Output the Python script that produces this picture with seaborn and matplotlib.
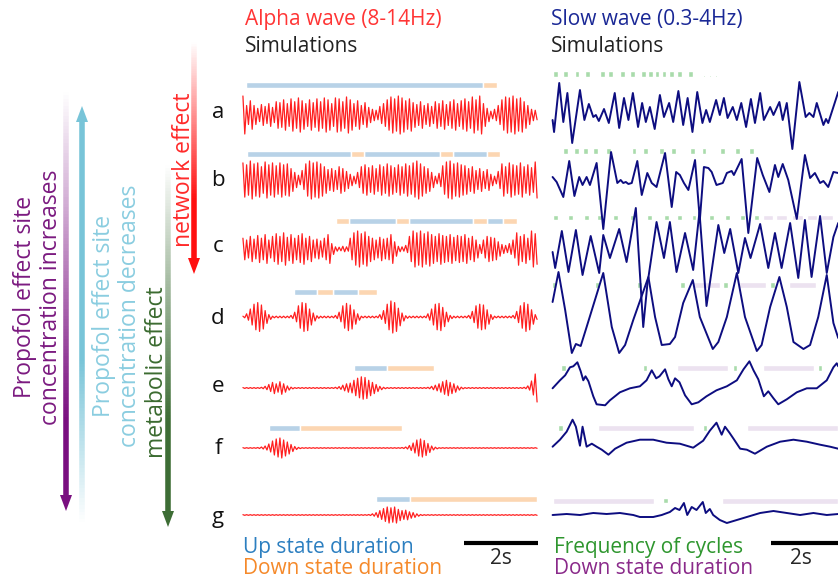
import numpy as np
import matplotlib.pyplot as plt
import seaborn as sns
from matplotlib.collections import LineCollection
from matplotlib.patches import Polygon
from matplotlib.colors import to_rgba

sns.set_style("white")
plt.rcParams['font.family'] = ['Open Sans', 'DejaVu Sans']

# ---- alpha wave: peak amplitude of each 10 Hz cycle over 8 s (1 = row max)
alpha_a = [1.0, 0.5, 0.75, 0.5, 0.35, 0.55, 0.45, 0.6, 0.4, 0.7,
           0.65, 0.8, 0.6, 0.85, 0.7, 0.9, 0.75, 0.6, 0.8, 0.65,
           0.85, 0.7, 0.9, 0.8, 0.6, 0.9, 0.85, 0.7, 0.95, 0.8,
           0.6, 0.75, 0.5, 0.65, 0.4, 0.3, 0.25, 0.45, 0.6, 0.8,
           0.95, 0.85, 1.0, 0.9, 0.75, 0.85, 0.65, 0.55, 0.7, 0.5,
           0.6, 0.45, 0.7, 0.6, 0.75, 0.55, 0.7, 0.8, 0.6, 0.75,
           0.85, 0.7, 0.95, 0.8, 1.0, 0.6, 0.35, 0.2, 0.3, 0.5,
           0.8, 0.95, 0.9, 1.0, 0.85, 0.9, 0.7, 0.5, 0.3, 0.25]
alpha_b = [0.9, 0.8, 1.0, 0.85, 0.9, 0.7, 0.95, 0.8, 0.9, 0.75,
           0.9, 0.8, 0.85, 0.6, 0.4, 0.25, 0.5, 0.85, 1.0, 0.9,
           0.95, 0.85, 0.7, 0.55, 0.6, 0.5, 0.7, 0.6, 0.45, 0.3,
           0.2, 0.4, 0.7, 0.8, 0.65, 0.75, 0.6, 0.8, 0.7, 0.85,
           0.75, 0.65, 0.8, 0.7, 0.85, 0.75, 0.9, 1.0, 0.85, 0.7,
           0.6, 0.4, 0.2, 0.35, 0.75, 0.95, 1.0, 0.85, 0.9, 0.8,
           0.75, 0.6, 0.7, 0.5, 0.6, 0.45, 0.55, 0.3, 0.2, 0.45,
           0.85, 0.7, 0.9, 0.8, 0.75, 0.9, 0.7, 0.8, 0.65, 0.95]
alpha_c = [0.6, 0.5, 0.7, 0.55, 0.75, 0.6, 0.8, 0.5, 0.7, 0.85,
           0.7, 0.9, 0.65, 0.8, 0.6, 0.75, 0.85, 0.6, 0.7, 0.5,
           0.55, 0.45, 0.6, 0.8, 0.3, 0.12, 0.1, 0.15, 0.12, 0.6,
           0.9, 1.0, 0.85, 0.95, 0.7, 0.6, 0.5, 0.65, 0.55, 0.6,
           0.8, 0.4, 0.15, 0.12, 0.2, 0.7, 1.0, 0.9, 1.0, 0.85,
           0.95, 0.8, 0.7, 0.85, 0.75, 0.7, 0.8, 0.65, 0.75, 0.7,
           0.8, 0.6, 0.7, 0.5, 0.25, 0.5, 0.7, 0.65, 0.6, 0.4,
           0.25, 0.2, 0.3, 0.5, 0.9, 0.7, 0.8, 0.6, 1.0, 0.85]
alpha_d = [0.05, 0.2, 0.5, 0.8, 0.9, 0.75, 0.4, 0.15, 0.05, 0.05,
           0.05, 0.05, 0.05, 0.1, 0.3, 0.7, 0.9, 0.85, 0.5, 0.25,
           0.08, 0.05, 0.05, 0.05, 0.05, 0.1, 0.3, 0.7, 0.85, 0.75,
           0.45, 0.2, 0.05, 0.05, 0.05, 0.05, 0.05, 0.15, 0.4, 0.8,
           1.0, 0.9, 0.55, 0.25, 0.08, 0.05, 0.05, 0.05, 0.05, 0.05,
           0.2, 0.5, 0.8, 0.85, 0.6, 0.3, 0.1, 0.05, 0.05, 0.05,
           0.05, 0.1, 0.35, 0.7, 0.8, 0.75, 0.45, 0.15, 0.05, 0.05,
           0.05, 0.05, 0.05, 0.1, 0.35, 0.7, 0.9, 0.8, 0.45, 0.15]
alpha_e = [0.03, 0.03, 0.03, 0.03, 0.03, 0.05, 0.12, 0.25, 0.4, 0.3,
           0.45, 0.3, 0.15, 0.06, 0.03, 0.03, 0.03, 0.03, 0.03, 0.03,
           0.03, 0.03, 0.03, 0.03, 0.03, 0.05, 0.1, 0.2, 0.3, 0.35,
           0.55, 0.7, 0.8, 0.75, 0.55, 0.4, 0.25, 0.12, 0.05, 0.03,
           0.03, 0.03, 0.03, 0.03, 0.03, 0.03, 0.03, 0.03, 0.03, 0.03,
           0.05, 0.12, 0.2, 0.3, 0.45, 0.55, 0.4, 0.3, 0.15, 0.06,
           0.03, 0.03, 0.03, 0.03, 0.03, 0.03, 0.03, 0.03, 0.03, 0.03,
           0.03, 0.03, 0.03, 0.03, 0.03, 0.03, 0.05, 0.15, 0.5, 1.0]
alpha_f = [0.03, 0.03, 0.03, 0.03, 0.05, 0.1, 0.2, 0.4, 0.7, 0.9,
           1.0, 0.8, 0.6, 0.35, 0.15, 0.06, 0.03, 0.03, 0.03, 0.03,
           0.03, 0.03, 0.03, 0.03, 0.03, 0.03, 0.03, 0.03, 0.03, 0.03,
           0.03, 0.03, 0.03, 0.03, 0.03, 0.03, 0.03, 0.03, 0.03, 0.03,
           0.03, 0.03, 0.03, 0.05, 0.1, 0.25, 0.5, 0.8, 0.9, 0.75,
           0.45, 0.2, 0.08, 0.03, 0.03, 0.03, 0.03, 0.03, 0.03, 0.03,
           0.03, 0.03, 0.03, 0.03, 0.03, 0.03, 0.03, 0.03, 0.03, 0.03,
           0.03, 0.03, 0.03, 0.03, 0.03, 0.03, 0.03, 0.03, 0.03, 0.03]
alpha_g = [0.04, 0.04, 0.04, 0.04, 0.04, 0.04, 0.04, 0.04, 0.04, 0.04,
           0.04, 0.04, 0.04, 0.04, 0.04, 0.04, 0.04, 0.04, 0.04, 0.04,
           0.04, 0.04, 0.04, 0.04, 0.04, 0.04, 0.04, 0.04, 0.04, 0.04,
           0.04, 0.04, 0.04, 0.04, 0.06, 0.15, 0.3, 0.55, 0.8, 1.0,
           0.9, 1.0, 0.7, 0.55, 0.6, 0.4, 0.3, 0.15, 0.06, 0.04,
           0.04, 0.04, 0.04, 0.04, 0.04, 0.04, 0.04, 0.04, 0.04, 0.04,
           0.04, 0.04, 0.04, 0.04, 0.04, 0.04, 0.04, 0.04, 0.04, 0.04,
           0.04, 0.04, 0.04, 0.04, 0.04, 0.04, 0.04, 0.04, 0.04, 0.04]

# ---- up / down state durations (start, end) in s
up_a = [(0.11, 6.51)]
down_a = [(6.51, 6.89)]
up_b = [(0.14, 2.95), (3.30, 5.35), (5.70, 6.62)]
down_b = [(2.95, 3.30), (5.35, 5.70), (6.62, 6.97)]
up_c = [(2.89, 4.16), (4.51, 6.24), (6.62, 7.05)]
down_c = [(2.54, 2.89), (4.16, 4.51), (6.24, 6.62), (7.05, 7.43)]
up_d = [(1.41, 2.03), (2.46, 3.14)]
down_d = [(2.03, 2.46), (3.14, 3.65)]
up_e = [(3.03, 3.92)]
down_e = [(3.92, 5.19)]
up_f = [(0.73, 1.57)]
down_f = [(1.57, 4.32)]
up_g = [(3.62, 4.54)]
down_g = [(4.54, 7.97)]

# ---- slow wave traces (time s, amplitude)
slow_a = [(0.34, -0.7), (0.38, -1.9), (0.52, 3.0), (0.63, -0.9), (0.74, 2.0), (0.87, -3.0),
          (1.08, 2.3), (1.20, -0.7), (1.32, 0.9), (1.44, -0.4), (1.51, -0.2), (1.59, -0.8),
          (1.73, 0.4), (1.86, -1.0), (2.02, 2.0), (2.14, -1.5), (2.27, 1.5), (2.39, -0.7),
          (2.51, 2.0), (2.65, -1.4), (2.76, 1.0), (2.86, -0.9), (2.97, 0.6), (3.10, -1.6),
          (3.24, 1.8), (3.35, -0.4), (3.49, 1.0), (3.60, -0.9), (3.74, 2.2), (3.87, -1.2),
          (3.99, 1.5), (4.12, -1.9), (4.25, 2.1), (4.39, -1.0), (4.49, 0.3), (4.59, -0.9),
          (4.76, 1.3), (4.86, -0.2), (4.97, 1.5), (5.07, -0.5), (5.21, 0.6), (5.32, -0.7),
          (5.44, 1.0), (5.57, -1.4), (5.70, 1.4), (5.81, -1.0), (5.95, 2.0), (6.05, -0.7),
          (6.22, 0.6), (6.31, -0.2), (6.47, 1.1), (6.56, -0.7), (6.67, 1.0), (6.82, -3.6),
          (7.01, 3.1), (7.18, -0.4), (7.28, 0.0), (7.39, -0.4), (7.48, 1.0), (7.66, -1.2),
          (7.73, -0.6), (7.79, -1.0), (8.06, 2.1)]
slow_b = [(0.34, 0.1), (0.45, -0.4), (0.63, -1.9), (0.79, 1.7), (0.93, -1.8), (1.06, 0.1),
          (1.15, -0.7), (1.26, 0.1), (1.35, -0.7), (1.53, 1.5), (1.71, -5.1), (1.92, 2.6),
          (2.09, -0.5), (2.18, -0.2), (2.25, -0.5), (2.32, -0.4), (2.39, -0.6), (2.48, -0.5),
          (2.63, 1.7), (2.75, -1.7), (2.90, 0.5), (3.02, -0.5), (3.15, -0.9), (3.38, 2.5),
          (3.56, -2.9), (3.68, 0.6), (3.78, 0.3), (3.89, -0.5), (4.01, -1.2), (4.19, 1.8),
          (4.32, -4.2), (4.43, 1.1), (4.55, 1.0), (4.64, 0.6), (4.77, -0.7), (4.94, -0.5),
          (5.05, 0.5), (5.18, 0.7), (5.24, 0.3), (5.45, 1.9), (5.63, -5.5), (5.87, 2.0),
          (6.02, 0.3), (6.20, -1.4), (6.35, 1.3), (6.44, 0.1), (6.56, 1.4), (6.71, -0.2),
          (6.94, -4.1), (7.16, 2.3), (7.30, 0.0), (7.43, 0.5), (7.57, -0.5), (7.66, -0.3),
          (7.79, -0.9), (7.93, 0.6), (8.06, 0.5)]
slow_c = [(0.34, -0.2), (0.41, -1.8), (0.59, 1.9), (0.77, -2.2), (0.97, 2.0), (1.15, -2.5),
          (1.37, 1.4), (1.60, -2.3), (1.71, 1.5), (1.89, -0.8), (2.14, 2.1), (2.34, -1.2),
          (2.59, 4.2), (2.79, -7.7), (2.90, -3.5), (3.15, 2.8), (3.35, -0.8), (3.51, 2.8),
          (3.69, -2.2), (3.92, 1.7), (4.14, -2.0), (4.31, 3.8), (4.50, -5.6), (4.82, 2.5),
          (4.98, -0.3), (5.14, 2.1), (5.36, -2.3), (5.54, 1.2), (5.69, -0.8), (5.95, 2.6),
          (6.17, -1.8), (6.35, 1.7), (6.53, -1.8), (6.76, 2.7), (6.98, -2.8), (7.16, 3.0),
          (7.34, -2.7), (7.57, 3.4), (7.75, -2.3), (7.93, 1.3), (8.06, 2.7)]
slow_d = [(0.34, 1.0), (0.50, 4.0), (0.68, 0.2), (0.86, -4.1), (0.97, -3.2), (1.10, -3.4),
          (1.26, -1.5), (1.71, 3.9), (1.94, -1.5), (2.14, -4.1), (2.30, -3.3), (2.52, -0.8),
          (2.93, 3.5), (3.11, -0.5), (3.29, -3.3), (3.51, -3.2), (3.65, -2.5), (3.87, 0.9),
          (4.13, 3.2), (4.32, -0.5), (4.67, -3.7), (4.82, -3.0), (5.05, -0.5), (5.32, 3.9),
          (5.54, -0.5), (5.86, -3.9), (5.99, -3.3), (6.22, 0.5), (6.47, 3.5), (6.67, 0.5),
          (6.85, -3.0), (7.12, -3.7), (7.30, -3.3), (7.52, -0.5), (7.75, 3.7), (7.93, -1.1),
          (8.06, -2.6)]
slow_e = [(0.34, 0.0), (0.54, 0.8), (0.68, 1.3), (0.81, 2.1), (0.90, 2.2), (1.01, 2.6),
          (1.10, 1.7), (1.17, 0.8), (1.23, 1.2), (1.31, 0.7), (1.44, -0.8), (1.53, -1.6),
          (1.76, -1.7), (1.89, -1.2), (2.16, -0.4), (2.43, 0.0), (2.70, 0.2), (2.88, 0.8),
          (3.02, 1.8), (3.14, 1.0), (3.23, 1.2), (3.38, 1.9), (3.47, 0.9), (3.56, 0.2),
          (3.65, 1.0), (3.77, 0.6), (3.92, -0.7), (4.10, -1.6), (4.28, -1.4), (4.50, -0.8),
          (4.77, -0.2), (5.05, 0.2), (5.32, 0.8), (5.50, 1.9), (5.66, 2.7), (5.77, 1.8),
          (5.90, 0.9), (6.05, -0.8), (6.17, -0.3), (6.31, -1.0), (6.44, -1.6), (6.67, -1.1),
          (6.94, -0.4), (7.21, 0.0), (7.48, 0.0), (7.75, 0.8), (7.93, 2.1), (8.02, 2.5),
          (8.06, 2.2)]
slow_f = [(0.34, 0.0), (0.54, 0.7), (0.72, 1.5), (0.88, 2.7), (0.97, 2.0), (1.08, 0.1),
          (1.15, 2.0), (1.26, 0.0), (1.40, 0.3), (1.53, 0.0), (1.67, -0.3), (1.85, -0.8),
          (2.03, -0.2), (2.34, 0.4), (2.70, 0.7), (3.06, 0.7), (3.42, 0.4), (3.78, 0.3),
          (4.14, -0.1), (4.41, 0.6), (4.59, 1.6), (4.77, 2.4), (4.91, 1.2), (5.00, 2.0),
          (5.12, 1.4), (5.23, 0.8), (5.41, -0.2), (5.59, -0.3), (5.81, -0.7), (6.13, 0.0),
          (6.49, 0.5), (6.85, 0.7), (7.21, 0.5), (7.57, 0.2), (7.84, 0.0), (8.06, -0.2)]
slow_g = [(0.34, 0.0), (0.72, 0.1), (1.08, 0.0), (1.44, 0.2), (1.80, 0.1), (2.16, 0.2),
          (2.52, 0.0), (2.70, -0.2), (3.06, -0.2), (3.29, 0.0), (3.51, 0.3), (3.65, 0.7),
          (3.77, 0.5), (3.89, 1.2), (3.98, 0.0), (4.10, 0.8), (4.23, 0.5), (4.40, 1.3),
          (4.48, 0.2), (4.59, 0.6), (4.68, 0.0), (4.86, -0.5), (5.05, -0.8), (5.23, -0.6),
          (5.59, -0.2), (5.95, 0.2), (6.31, 0.4), (6.67, 0.2), (7.03, 0.0), (7.39, 0.2),
          (7.75, 0.0), (8.06, 0.1)]

# ---- frequency of cycles (marker times, s) and down state bars (s)
cycles_a = [0.41, 0.68, 1.00, 1.28, 1.68, 1.91, 2.22, 2.50, 2.80, 2.99, 3.16, 3.35, 3.55, 3.76, 4.07]
more_a = [4.43, 4.59, 4.75]
cycles_b = [0.68, 0.99, 1.22, 1.49, 1.86, 2.54, 2.85, 3.29, 3.60, 4.12, 4.43, 4.94, 5.34, 5.72]
cycles_c = [0.41, 0.83, 1.26, 1.60, 2.03, 2.50, 2.97, 3.42, 3.78, 4.16, 4.64, 5.06, 5.48, 5.86]
cycles_d = [0.38, 1.55, 2.70, 3.86, 5.02, 6.29]
cycles_e = [0.63, 2.84, 5.27, 7.57]
cycles_f = [0.56, 4.46]
cycles_g = [3.40]
dstate_a = []
dstate_b = []
dstate_c = [(6.02, 6.29), (6.38, 6.67), (6.80, 7.12), (7.21, 7.48), (7.59, 7.93)]
dstate_d = [(4.10, 4.86), (5.39, 6.11), (6.74, 7.46)]
dstate_e = [(3.69, 5.09), (6.02, 7.41)]
dstate_f = [(1.58, 4.17), (5.60, 8.06)]
dstate_g = [(0.34, 3.08), (4.91, 8.06)]

labels = ['a', 'b', 'c', 'd', 'e', 'f', 'g']
alpha_rows = [alpha_a, alpha_b, alpha_c, alpha_d, alpha_e, alpha_f, alpha_g]
up_rows = [up_a, up_b, up_c, up_d, up_e, up_f, up_g]
down_rows = [down_a, down_b, down_c, down_d, down_e, down_f, down_g]
slow_rows = [slow_a, slow_b, slow_c, slow_d, slow_e, slow_f, slow_g]
cycle_rows = [cycles_a, cycles_b, cycles_c, cycles_d, cycles_e, cycles_f, cycles_g]
dstate_rows = [dstate_a, dstate_b, dstate_c, dstate_d, dstate_e, dstate_f, dstate_g]

# ---- layout (pixels of the 838x578 canvas)
W, H = 838, 578
PXS = 37.0                       # pixels per second
alpha_y = [115, 180, 249, 317, 388, 448, 515]
alpha_gain = [19, 19, 18, 16, 14, 10, 8]
alpha_bar = [30, 26.5, 28, 25, 20.3, 20.3, 16]
slow_y = [113, 178, 250, 312, 388.3, 446.7, 515]
slow_bar = [39, 27, 32.7, 27, 20, 19, 14.3]
label_y = [113, 180, 247, 318, 387, 448, 517]

RED = '#ff1f1f'
NAVY = '#0d0d80'
UP_C, DOWN_C = '#b8d2e7', '#fcd6b2'
CYC_C, DS_C = '#a9dbab', '#ece2f0'
FS = 15

fig = plt.figure(figsize=(W / 100, H / 100), dpi=100)


def row_axes(x0, x1, yc, z):
    ax = fig.add_axes([x0 / W, 1 - (yc + 90) / H, (x1 - x0) / W, 180 / H], zorder=z)
    ax.set_xlim(0, (x1 - x0) / PXS)
    ax.set_ylim(-90, 90)
    ax.axis('off')
    return ax


for i, lab in enumerate(labels):
    # alpha panel
    ax = row_axes(242, 538, alpha_y[i], 20 - i)
    amps = np.repeat(alpha_rows[i], 2)
    sign = np.tile([1, -1], len(alpha_rows[i]))
    t = (np.arange(len(amps)) + 0.5) / 20
    sns.lineplot(x=t, y=amps * sign * alpha_gain[i], ax=ax, color=RED,
                 linewidth=0.9, estimator=None, clip_on=False)
    yb = alpha_bar[i]
    ax.broken_barh([(s, e - s) for s, e in up_rows[i]], (yb - 3, 6), facecolor=UP_C, zorder=1)
    ax.broken_barh([(s, e - s) for s, e in down_rows[i]], (yb - 3, 6), facecolor=DOWN_C, zorder=1)

    # slow wave panel
    ax2 = row_axes(540, 838, slow_y[i], 20 - i)
    ts, vs = zip(*slow_rows[i])
    ys = slow_bar[i]
    ax2.broken_barh([(s, e - s) for s, e in dstate_rows[i]], (ys - 2.8, 5.6), facecolor=DS_C, zorder=1)
    ax2.broken_barh([(c - 0.065, 0.13) for c in cycle_rows[i]], (ys - 2.8, 5.6), facecolor=CYC_C, zorder=1)
    if lab == 'a':
        ax2.broken_barh([(c - 0.025, 0.05) for c in more_a], (ys - 3, 2), facecolor=CYC_C, zorder=1)
    sns.lineplot(x=np.array(ts), y=np.array(vs) * 10, ax=ax2, color=NAVY,
                 linewidth=1.4, estimator=None, clip_on=False, zorder=3,
                 solid_joinstyle='round')

    fig.text(218 / W, 1 - label_y[i] / H, lab, fontsize=16, ha='center', va='center', color='#111111')

# scale bars (2 s) under the last row
ax_g = fig.axes[-2]
ax_g.plot([8 - 2, 8], [-28, -28], color='black', lw=3, clip_on=False, solid_capstyle='butt')
ax_g.text(7, -44, '2s', fontsize=FS, ha='center', va='center')
ax_s = fig.axes[-1]
ax_s.plot([6.24, 8.24], [-28, -28], color='black', lw=3, clip_on=False, solid_capstyle='butt')
ax_s.text(7.05, -44, '2s', fontsize=FS, ha='center', va='center')

# overlay for arrows
ov = fig.add_axes([0, 0, 1, 1], zorder=30)
ov.set_xlim(0, W)
ov.set_ylim(H, 0)
ov.axis('off')


def grad_arrow(x, y_tail, y_tip, color, fade_from, fade_to, lw=4.0, head_w=12, head_l=16):
    d = 1 if y_tip > y_tail else -1
    y_head = y_tip - d * head_l
    ys = np.linspace(y_tail, y_head, 120)
    segs = [[(x, ys[k]), (x, ys[k + 1])] for k in range(len(ys) - 1)]
    mid = (ys[:-1] + ys[1:]) / 2
    a = np.clip((mid - fade_from) / (fade_to - fade_from), 0, 1)
    rgba = [to_rgba(color, float(v)) for v in a]
    ov.add_collection(LineCollection(segs, colors=rgba, linewidths=lw, capstyle='butt'))
    ov.add_patch(Polygon([(x - head_w / 2, y_head), (x + head_w / 2, y_head), (x, y_tip)],
                         closed=True, facecolor=color, edgecolor='none'))


grad_arrow(66, 92, 511, '#7a0f80', 92, 420)
grad_arrow(82, 522, 106, '#78c4d8', 522, 360)
grad_arrow(168, 165, 527, '#3d6d35', 165, 420)
grad_arrow(194, 42, 274, '#ff1010', 42, 200)

fig.text(38 / W, 1 - 297 / H, 'Propofol effect site\nconcentration increases', rotation=90,
         fontsize=16.5, color='#7b1a80', ha='center', va='center', multialignment='center',
         linespacing=1.1)
fig.text(117 / W, 1 - 316 / H, 'Propofol effect site\nconcentration decreases', rotation=90,
         fontsize=16.5, color='#8acde0', ha='center', va='center', multialignment='center',
         linespacing=1.1)
fig.text(157 / W, 1 - 372 / H, 'metabolic effect', rotation=90, fontsize=16.5,
         color='#3b6b30', ha='center', va='center')
fig.text(184 / W, 1 - 170 / H, 'network effect', rotation=90, fontsize=16.5,
         color='#ff2a2a', ha='center', va='center')

fig.text(245 / W, 1 - 20 / H, 'Alpha wave (8-14Hz)', fontsize=FS, color='#ff3535', va='center')
fig.text(245 / W, 1 - 46 / H, 'Simulations', fontsize=FS, color='#222222', va='center')
fig.text(551 / W, 1 - 20 / H, 'Slow wave (0.3-4Hz)', fontsize=FS, color='#1a2896', va='center')
fig.text(551 / W, 1 - 46 / H, 'Simulations', fontsize=FS, color='#222222', va='center')

fig.text(243 / W, 1 - 548 / H, 'Up state duration', fontsize=FS, color='#2c7fc0', va='center')
fig.text(243 / W, 1 - 569 / H, 'Down state duration', fontsize=FS, color='#f5892a', va='center')
fig.text(554 / W, 1 - 548 / H, 'Frequency of cycles', fontsize=FS, color='#2e962e', va='center')
fig.text(554 / W, 1 - 569 / H, 'Down state duration', fontsize=FS, color='#8a2a8a', va='center')

fig.savefig('out.png', dpi=100)
